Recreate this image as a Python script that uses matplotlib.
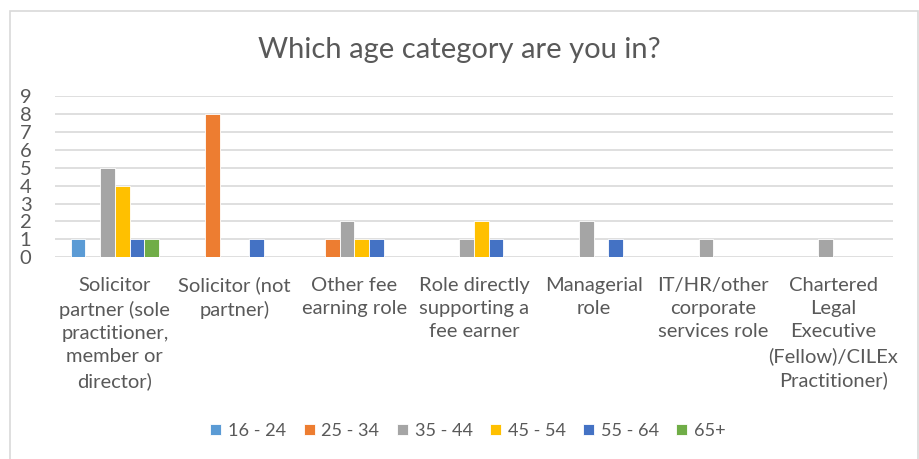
import numpy as np
import matplotlib.pyplot as plt
from matplotlib.patches import Rectangle

categories = [
    "Solicitor\npartner (sole\npractitioner,\nmember or\ndirector)",
    "Solicitor (not\npartner)",
    "Other fee\nearning role",
    "Role directly\nsupporting a\nfee earner",
    "Managerial\nrole",
    "IT/HR/other\ncorporate\nservices role",
    "Chartered\nLegal\nExecutive\n(Fellow)/CILEx\nPractitioner)",
]
age_groups = ["16 - 24", "25 - 34", "35 - 44", "45 - 54", "55 - 64", "65+"]
age_16_24 = [1, 0, 0, 0, 0, 0, 0]
age_25_34 = [0, 8, 1, 0, 0, 0, 0]
age_35_44 = [5, 0, 2, 1, 2, 1, 1]
age_45_54 = [4, 0, 1, 2, 0, 0, 0]
age_55_64 = [1, 1, 1, 1, 1, 0, 0]
age_65_plus = [1, 0, 0, 0, 0, 0, 0]
series = [age_16_24, age_25_34, age_35_44, age_45_54, age_55_64, age_65_plus]
colors = ["#5B9BD5", "#ED7D31", "#A5A5A5", "#FFC000", "#4472C4", "#70AD47"]

plt.rcParams['font.family'] = ['Lato', 'DejaVu Sans']
txt = '#595959'

fig = plt.figure(figsize=(9.19, 4.59), dpi=100)
fig.patches.append(Rectangle((10/919, -0.05), (918-10)/919, 1.05 - 11/459,
                             transform=fig.transFigure, fill=False,
                             edgecolor='#d9d9d9', linewidth=1.2))
ax = fig.add_axes([55/919, 1-257.3/459, (893-55)/919, (257.3-96)/459])

x = np.arange(len(categories))
w = 0.123
for i, (vals, c, lab) in enumerate(zip(series, colors, age_groups)):
    ax.bar(x + (i - 2.5) * w, vals, w, color=c, edgecolor='white',
           linewidth=0.6, label=lab, zorder=3)

ax.set_xlim(-0.5, len(categories) - 0.5)
ax.set_ylim(0, 9)
ax.set_yticks(range(10))
ax.yaxis.grid(True, color='#d9d9d9', linewidth=1.2, zorder=0)
for s in ax.spines.values():
    s.set_visible(False)
ax.tick_params(axis='y', length=0, pad=17, labelsize=14.5, labelcolor=txt)
ax.set_xticks(x)
ax.set_xticklabels(categories, fontsize=14.5, color=txt, linespacing=1.45,
                   va='top')
ax.tick_params(axis='x', length=0, pad=14)

fig.text(0.5, 1-50/459, "Which age category are you in?", ha='center',
         va='center', fontsize=21, color=txt)

fig.legend(loc='center', bbox_to_anchor=(468/919, 1-431/459), ncol=6,
           frameon=False, fontsize=13.1, labelcolor=txt, handlelength=0.6,
           handleheight=0.6, handletextpad=0.38, columnspacing=0.95)

fig.savefig("out.png", dpi=100)
